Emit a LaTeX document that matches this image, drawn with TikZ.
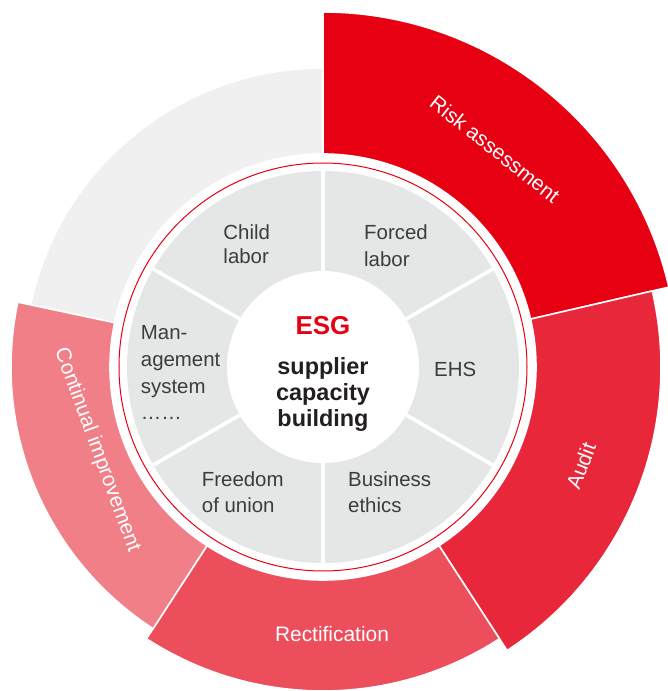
\documentclass[tikz,border=0pt]{standalone}
\usepackage{fontspec}
\setmainfont{Liberation Sans}
\definecolor{riskred}{HTML}{E60012}
\definecolor{auditred}{HTML}{E8283A}
\definecolor{rectred}{HTML}{EC4E5C}
\definecolor{contpink}{HTML}{F17F87}
\definecolor{ringgray}{HTML}{F0F0F0}
\definecolor{innergray}{HTML}{E5E6E6}
\definecolor{labelgray}{HTML}{3C3C3C}
\definecolor{titleblack}{HTML}{231F20}
\newcommand\annsec[5]{\fill[#5] (#1:#3) arc[start angle=#1,end angle=#2,radius=#3] -- (#2:#4) arc[start angle=#2,end angle=#1,radius=#4] -- cycle;}
\begin{document}
\begin{tikzpicture}[x=1bp,y=1bp,
  seg/.style={draw=white,line width=1.6bp},
  ringlabel/.style={text=white,inner sep=0pt,font=\fontsize{21}{25}\selectfont},
  topic/.style={text=labelgray,inner sep=0pt,align=left,anchor=north west,font=\fontsize{20.5}{27}\selectfont},
  divider/.style={white,line width=3.6bp}]
\useasboundingbox (-323,-324) rectangle (345,367);
% outer ring
\annsec{90}{168}{213}{299}{seg,fill=ringgray}
\annsec{13}{90}{213}{355}{seg,fill=riskred}
\annsec{-57}{13}{213}{338}{seg,fill=auditred}
\annsec{-123}{-57}{213}{324}{seg,fill=rectred}
\annsec{168}{237}{213}{312}{seg,fill=contpink}
% thin red circle
\draw[riskred,line width=1bp] (0,0) circle[radius=204];
% inner gray ring
\fill[innergray] (0,0) circle[radius=196];
\foreach \a in {30,90,150,210,270,330}
  \draw[divider] (\a:90) -- (\a:200);
\fill[white] (0,0) circle[radius=96];
% ring labels
\node[ringlabel,rotate=-38.3] (risk) at (172,218) {Risk assessment};
\node[ringlabel,rotate=69] (audit) at (258,-99) {Audit};
\node[ringlabel,anchor=base] (rect) at (9,-274) {Rectification};
\node[ringlabel,rotate=-69.8] (cont) at (-226,-83) {Continual improvement};
% topics
\node[topic,font=\fontsize{20.5}{24.5}\selectfont] (child) at (-99.7,142.7) {Child\\labor};
\node[topic] (forced) at (41,142) {Forced\\labor};
\node[topic] (ehs) at (111,5) {EHS};
\node[topic] (business) at (25,-104) {Business\\ethics};
\node[topic] (freedom) at (-121.3,-104) {Freedom\\of union};
\node[topic] (mgmt) at (-182.3,42) {Man-\\agement\\system\\……};
% center
\node[inner sep=0pt,anchor=base,text=riskred,font=\fontsize{26}{30}\selectfont\bfseries] (esg) at (0,32) {ESG};
\node[inner sep=0pt,anchor=north,align=center,text=titleblack,font=\fontsize{23.5}{26.5}\selectfont\bfseries] (title) at (0,10) {supplier\\capacity\\building};
\end{tikzpicture}
\end{document}
